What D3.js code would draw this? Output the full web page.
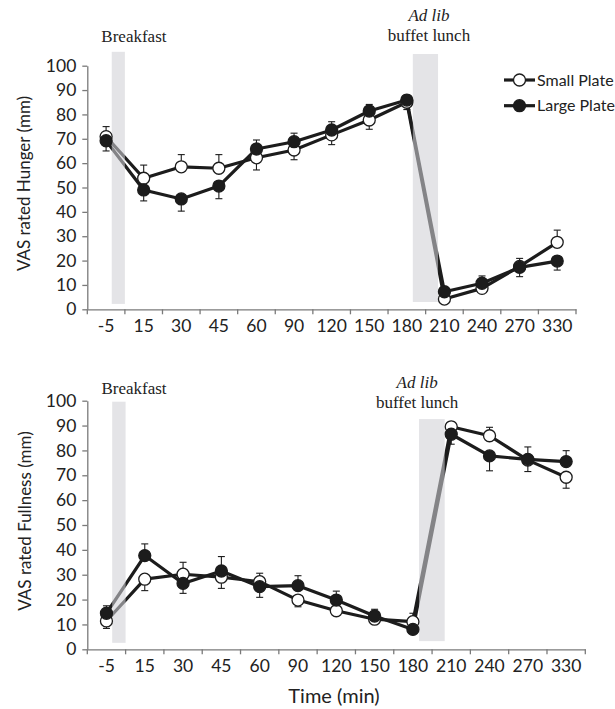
<!DOCTYPE html>
<html>
<head>
<meta charset="utf-8">
<script src="https://cdn.jsdelivr.net/npm/d3@7"></script>
<style>
  body { margin: 0; background: #fff; }
  svg { display: block; }
</style>
</head>
<body>
<script>
// time points (categorical x axis)
var timeLabels = ["-5", "15", "30", "45", "60", "90", "120", "150", "180", "210", "240", "270", "330"];
var yTicks = [0, 10, 20, 30, 40, 50, 60, 70, 80, 90, 100];

// hunger (mm), mean and SEM
var hungerSmall    = [70.9, 53.8, 58.5, 57.9, 62.2, 65.4, 71.6, 77.7, 85.0, 4.2, 8.6, 17.6, 27.5];
var hungerSmallErr = [4.1, 5.4, 5.0, 5.6, 5.0, 4.0, 4.0, 3.8, 3.0, 1.5, 1.5, 3.3, 5.0];
var hungerLarge    = [69.2, 49.0, 45.3, 50.6, 65.8, 68.8, 73.6, 81.4, 85.9, 7.2, 10.7, 17.2, 19.8];
var hungerLargeErr = [4.2, 4.5, 5.0, 5.2, 3.7, 3.5, 3.4, 2.7, 2.0, 1.5, 3.0, 3.8, 3.7];

// fullness (mm), mean and SEM
var fullSmall    = [11.4, 28.2, 30.2, 29.0, 27.2, 19.8, 15.5, 12.1, 11.1, 89.5, 85.9, 76.1, 69.2];
var fullSmallErr = [3.0, 4.6, 4.8, 4.5, 3.4, 2.7, 1.5, 2.0, 3.4, 2.0, 3.4, 4.6, 4.4];
var fullLarge    = [14.5, 37.7, 26.5, 31.5, 25.2, 25.6, 19.8, 13.4, 8.0, 86.5, 77.8, 76.4, 75.5];
var fullLargeErr = [3.0, 4.7, 4.0, 5.8, 4.3, 4.0, 3.6, 2.7, 1.5, 4.0, 6.0, 5.0, 4.4];

// meals, in category units along the x axis
var mealNames = ["Breakfast", "buffet lunch"];
var mealFrom  = [0.65, 8.66];
var mealTo    = [1.0, 9.33];

var seriesNames = ["Small Plate", "Large Plate"];

var svg = d3.select("body")
    .append("svg")
    .attr("width", 615)
    .attr("height", 709);

var sansFont = "Lato, 'Open Sans', sans-serif";
var serifFont = "'Liberation Serif', 'DejaVu Serif', serif";
var ink = "#1c1c1c";

function drawPanel(p) {
    var g = svg.append("g");

    var x = d3.scaleBand()
        .domain(timeLabels)
        .range([p.left, p.right])
        .padding(0);

    // category index -> px, for bands and notes
    var xi = d3.scaleLinear()
        .domain([0, timeLabels.length])
        .range([p.left, p.right]);

    var y = d3.scaleLinear()
        .domain([0, 100])
        .range([p.bottom, p.top]);

    var cx = function(i) { return x(timeLabels[i]) + x.bandwidth() / 2; };

    // axes
    var yAxis = g.append("g")
        .attr("transform", "translate(" + p.left + ",0)")
        .call(d3.axisLeft(y).tickValues(yTicks).tickSize(5).tickPadding(6).tickSizeOuter(0));
    yAxis.selectAll("text")
        .attr("font-family", sansFont)
        .attr("font-size", 17.5)
        .attr("fill", "#222");

    var xAxis = g.append("g")
        .attr("transform", "translate(0," + p.bottom + ")")
        .call(d3.axisBottom(x).tickSize(0).tickPadding(10).tickSizeOuter(0));
    xAxis.selectAll("text")
        .attr("font-family", sansFont)
        .attr("font-size", 17.5)
        .attr("fill", "#222");

    // ticks sit on category boundaries (excel style)
    xAxis.selectAll(".bound")
        .data(d3.range(timeLabels.length + 1))
        .enter().append("line")
        .attr("class", "bound")
        .attr("x1", function(d) { return xi(d); })
        .attr("x2", function(d) { return xi(d); })
        .attr("y1", 0)
        .attr("y2", 5);

    g.selectAll(".domain, .tick line, .bound")
        .attr("stroke", "#7a7a7a")
        .attr("stroke-width", 1.3);

    // y title
    g.append("text")
        .attr("transform", "translate(" + p.titleX + "," + ((p.top + p.bottom) / 2 - 4) + ") rotate(-90)")
        .attr("text-anchor", "middle")
        .attr("font-family", sansFont)
        .attr("font-size", 17)
        .attr("fill", "#222")
        .text(p.title);

    var series = [
        {name: seriesNames[0], values: p.small, err: p.smallErr, other: p.large, fill: "#fff"},
        {name: seriesNames[1], values: p.large, err: p.largeErr, other: p.small, fill: ink}
    ];

    var line = d3.line()
        .x(function(d, i) { return cx(i); })
        .y(function(d) { return y(d); });

    // error bars point away from the other series
    series.forEach(function(s) {
        var eb = g.append("g")
            .attr("stroke", ink)
            .attr("stroke-width", 1.1);
        s.values.forEach(function(v, i) {
            var dir = v >= s.other[i] ? 1 : -1;
            var yEnd = y(v + dir * s.err[i]);
            eb.append("line")
                .attr("x1", cx(i)).attr("x2", cx(i))
                .attr("y1", y(v)).attr("y2", yEnd);
            eb.append("line")
                .attr("x1", cx(i) - 3.5).attr("x2", cx(i) + 3.5)
                .attr("y1", yEnd).attr("y2", yEnd);
        });
    });

    series.forEach(function(s) {
        g.append("path")
            .datum(s.values)
            .attr("fill", "none")
            .attr("stroke", ink)
            .attr("stroke-width", 3.2)
            .attr("stroke-linejoin", "round")
            .attr("d", line);
    });

    // meal bands, semi transparent so lines show grey through them
    g.selectAll(".band")
        .data(mealNames)
        .enter().append("rect")
        .attr("class", "band")
        .attr("x", function(d, i) { return xi(mealFrom[i]); })
        .attr("width", function(d, i) { return xi(mealTo[i]) - xi(mealFrom[i]); })
        .attr("y", function(d, i) { return y(p.bandTop[i]); })
        .attr("height", function(d, i) { return y(p.bandBottom[i]) - y(p.bandTop[i]); })
        .attr("fill", "#d0d0d5")
        .attr("fill-opacity", 0.58);

    series.forEach(function(s) {
        g.append("g")
            .selectAll("circle")
            .data(s.values)
            .enter().append("circle")
            .attr("cx", function(d, i) { return cx(i); })
            .attr("cy", function(d) { return y(d); })
            .attr("r", 6)
            .attr("fill", s.fill)
            .attr("stroke", ink)
            .attr("stroke-width", 1.3);
    });

    // meal notes
    g.append("text")
        .attr("x", xi(p.breakfastAt))
        .attr("y", p.breakfastY)
        .attr("text-anchor", "middle")
        .attr("font-family", serifFont)
        .attr("font-size", 17)
        .attr("fill", "#222")
        .text(mealNames[0]);

    g.append("text")
        .attr("x", xi(p.lunchAt))
        .attr("y", p.lunchY - 20)
        .attr("text-anchor", "middle")
        .attr("font-family", serifFont)
        .attr("font-style", "italic")
        .attr("font-size", 17)
        .attr("fill", "#222")
        .text("Ad lib");

    g.append("text")
        .attr("x", xi(p.lunchAt))
        .attr("y", p.lunchY)
        .attr("text-anchor", "middle")
        .attr("font-family", serifFont)
        .attr("font-size", 17)
        .attr("fill", "#222")
        .text(mealNames[1]);

    return g;
}

drawPanel({
    left: 87.3, right: 576, top: 65.7, bottom: 309.3,
    title: "VAS rated Hunger (mm)", titleX: 30,
    small: hungerSmall, smallErr: hungerSmallErr,
    large: hungerLarge, largeErr: hungerLargeErr,
    bandTop: [105.7, 104.8], bandBottom: [2.2, 3.0],
    breakfastAt: 1.24, breakfastY: 41.5,
    lunchAt: 9.09, lunchY: 41
});

var bottomPanel = drawPanel({
    left: 87.3, right: 585.3, top: 400.7, bottom: 649.3,
    title: "VAS rated Fullness (mm)", titleX: 31,
    small: fullSmall, smallErr: fullSmallErr,
    large: fullLarge, largeErr: fullLargeErr,
    bandTop: [99.6, 92.6], bandBottom: [2.6, 3.3],
    breakfastAt: 1.22, breakfastY: 394,
    lunchAt: 8.61, lunchY: 408
});

bottomPanel.append("text")
    .attr("x", 334)
    .attr("y", 703)
    .attr("text-anchor", "middle")
    .attr("font-family", sansFont)
    .attr("font-size", 20)
    .attr("fill", "#222")
    .text("Time (min)");

// legend
var legend = svg.append("g")
    .selectAll("g")
    .data(seriesNames)
    .enter().append("g")
    .attr("transform", function(d, i) { return "translate(504," + (80 + i * 25.7) + ")"; });

legend.append("line")
    .attr("x1", 0).attr("x2", 31)
    .attr("stroke", ink)
    .attr("stroke-width", 3.2);

legend.append("circle")
    .attr("cx", 15.5)
    .attr("r", 6)
    .attr("fill", function(d, i) { return i === 0 ? "#fff" : ink; })
    .attr("stroke", ink)
    .attr("stroke-width", 1.3);

legend.append("text")
    .attr("x", 33)
    .attr("y", 5.5)
    .attr("font-family", sansFont)
    .attr("font-size", 16)
    .attr("fill", "#222")
    .text(function(d) { return d; });
</script>
</body>
</html>
